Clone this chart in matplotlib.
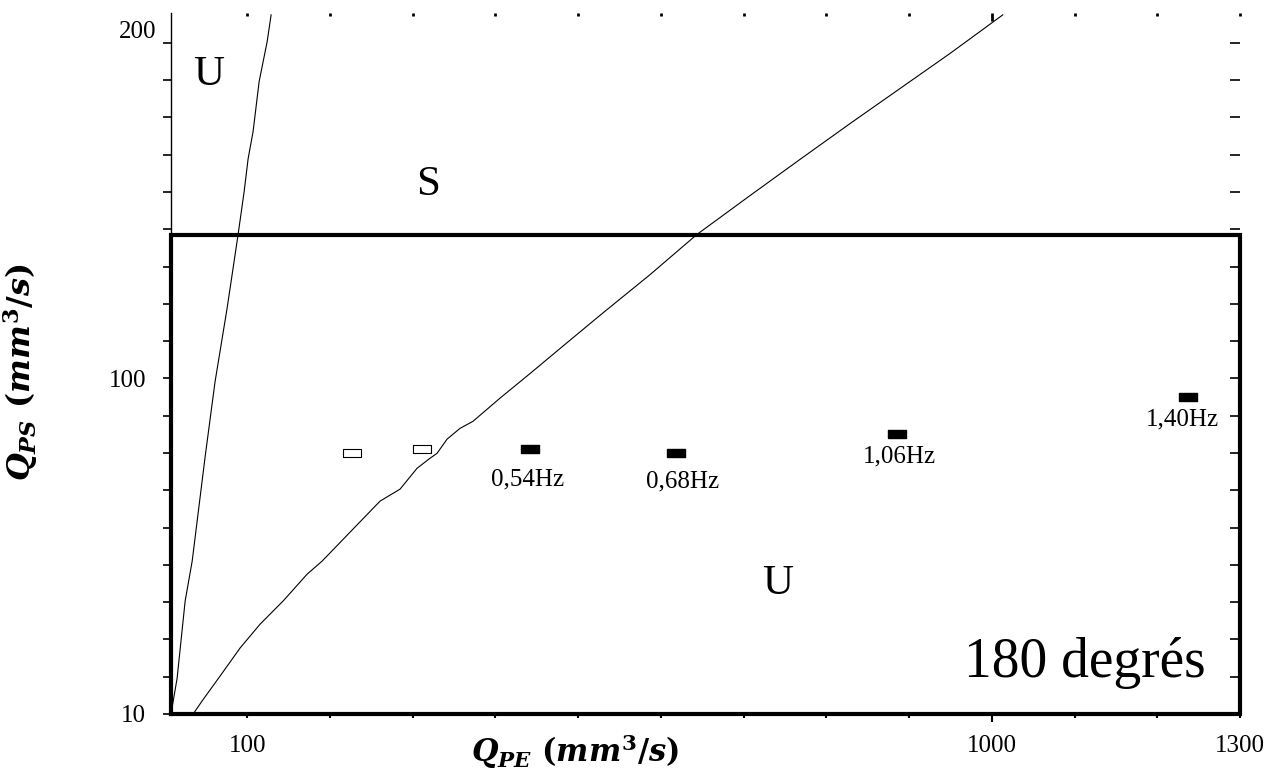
import matplotlib
matplotlib.use('Agg')
import matplotlib.pyplot as plt
from matplotlib.ticker import FixedLocator, FuncFormatter

# frontiere gauche (courbe raide)
steep_x = [8, 15.4, 25.1, 33.6, 49.3, 61.3, 75.8, 89.1, 96.4, 101.2, 107.2, 114.5, 124.2, 129]
steep_y = [10, 19.6, 40.3, 51.0, 79.1, 99.2, 118.8, 138.6, 150.1, 158.9, 166.2, 179.6, 190.3, 197.5]

# frontiere droite
front_x = [34.8, 45.6, 67.4, 91.5, 115.7, 143.5, 172.5, 190.6, 260.7, 284.8, 305.4, 321.1, 329.5,
           341.6, 357.3, 373.0, 405.6, 441.9, 478.1, 526.4, 586.8, 643.6, 707.6, 768.0,
           828.4, 888.8, 949.2, 1013.3]
front_y = [10, 13.5, 20.2, 27.7, 34.1, 40.3, 47.5, 51.0, 67.1, 70.3, 75.9, 78.6, 79.9,
           83.7, 86.6, 88.5, 94.7, 101.3, 108.0, 116.9, 127.8, 138.6, 149.0, 158.7,
           168.3, 177.7, 187.1, 197.5]

# points experimentaux
stable_x = [441.9, 618.2, 885.2, 1236.8]
stable_y = [81.0, 79.9, 85.0, 94.9]
freq_labels = ['0,54Hz', '0,68Hz', '1,06Hz', '1,40Hz']
unstable_x = [226.8, 311.4]
unstable_y = [79.9, 81.0]

# domaine des essais
box_x = [8, 1300, 1300, 8, 8]
box_y = [10, 10, 138.5, 138.5, 10]

x_lo, x_hi = 8, 1300
y_lo, y_hi = 10, 198

plt.rcParams['font.family'] = ['Liberation Serif', 'DejaVu Serif']
plt.rcParams['mathtext.fontset'] = 'custom'
plt.rcParams['mathtext.it'] = 'DejaVu Serif:italic:bold'
plt.rcParams['mathtext.rm'] = 'DejaVu Serif:bold'
plt.rcParams['mathtext.bf'] = 'DejaVu Serif:bold'

fig = plt.figure(figsize=(12.7, 7.76), dpi=100)
ax = fig.add_axes([171/1270, 1-714/776, (1240-171)/1270, (714-13)/776])

ax.plot(steep_x, steep_y, color='black', lw=0.8)
ax.plot(front_x, front_y, color='black', lw=0.8)
ax.plot(box_x, box_y, color='black', lw=3, clip_on=False, zorder=5, solid_joinstyle='miter')

rect = [(-1, -0.42), (1, -0.42), (1, 0.42), (-1, 0.42), (-1, -0.42)]
ax.plot(stable_x, stable_y, ls='none', marker=rect, ms=13, color='black')
ax.plot(unstable_x, unstable_y, ls='none', marker=rect, ms=13, mfc='white', mec='black', mew=0.8)

offsets = [(-2, -22), (5, -20), (2, -16), (-4, -16)]
for x, y, lab, off in zip(stable_x, stable_y, freq_labels, offsets):
    ax.annotate(lab, (x, y), xytext=off, textcoords='offset points',
                ha='center', va='center', fontsize=18)

ax.text(52.9, 181.4, 'U', fontsize=31, ha='center', va='center')
ax.text(318.7, 152.0, 'S', fontsize=31, ha='center', va='center')
ax.text(741.5, 44.8, 'U', fontsize=31, ha='center', va='center')
ax.text(1112, 23.7, '180 degrés', fontsize=40, ha='center', va='center')

ax.set_xlim(x_lo, x_hi)
ax.set_ylim(y_lo, y_hi)

for s in ['top', 'right', 'bottom']:
    ax.spines[s].set_visible(False)
ax.spines['left'].set_linewidth(1)

# axe x (bas)
ax.xaxis.set_major_locator(FixedLocator([1000]))
ax.xaxis.set_minor_locator(FixedLocator([100, 200, 300, 400, 500, 600, 700, 800, 900, 1100, 1200, 1300]))
ax.xaxis.set_major_formatter(FuncFormatter(lambda v, p: '1000'))
ax.xaxis.set_minor_formatter(FuncFormatter(lambda v, p: str(int(round(v))) if round(v) in (100, 1300) else ''))
ax.tick_params(axis='x', which='major', direction='out', length=6, width=1.5, labelsize=18, pad=9)
ax.tick_params(axis='x', which='minor', direction='out', length=3, width=1.5, labelsize=18, pad=12)

# axe y (gauche)
ax.yaxis.set_major_locator(FixedLocator([10, 100]))
ax.yaxis.set_minor_locator(FixedLocator(list(range(20, 200, 10))))
ax.tick_params(axis='y', which='both', direction='out', length=6, width=1.2, labelsize=18, pad=12)
ax.text(-0.014, 192.8, '200', transform=ax.get_yaxis_transform(), ha='right', va='center', fontsize=18)

# graduations haut et droite
top = ax.secondary_xaxis('top')
top.xaxis.set_major_locator(FixedLocator([1000]))
top.xaxis.set_minor_locator(FixedLocator([100, 200, 300, 400, 500, 600, 700, 800, 900, 1100, 1200, 1300]))
top.tick_params(which='major', direction='in', length=6, width=2, labeltop=False)
top.tick_params(which='minor', direction='in', length=2.5, width=2)
top.spines['top'].set_visible(False)

right = ax.secondary_yaxis('right')
right.yaxis.set_major_locator(FixedLocator(list(range(10, 200, 10))))
right.yaxis.set_minor_locator(FixedLocator([]))
right.tick_params(which='major', direction='in', length=7, width=1.2, labelright=False)
right.spines['right'].set_visible(False)

ax.set_xlabel(r'$Q_{PE}\ (mm^3/s)$', fontsize=22, va='center')
ax.xaxis.set_label_coords(0.378, -0.054)
ax.set_ylabel(r'$Q_{PS}\ (mm^3/s)$', fontsize=23, va='center')
ax.yaxis.set_label_coords(-0.141, 0.488)

fig.savefig('out.png', dpi=100)
